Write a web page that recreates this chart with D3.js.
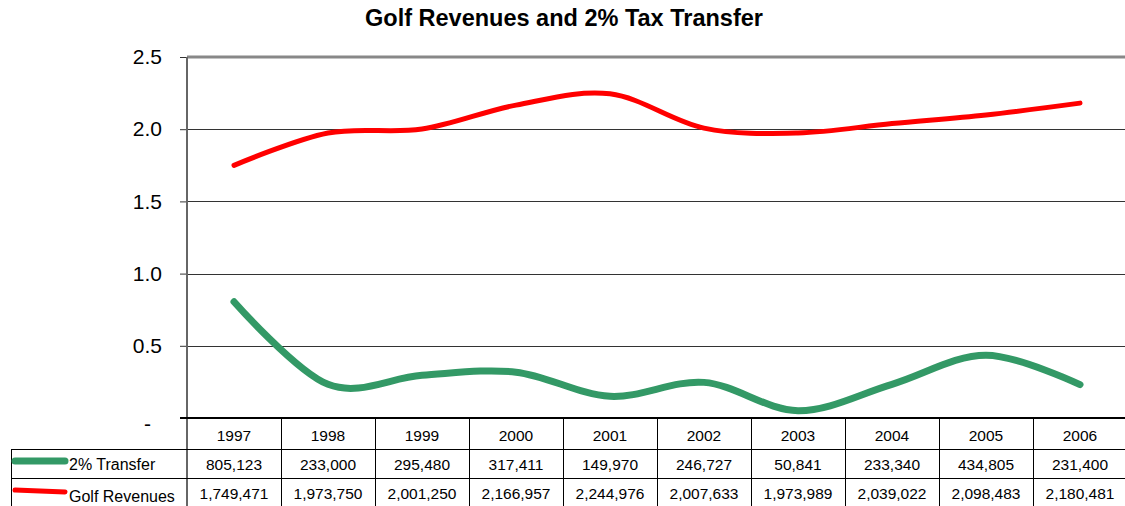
<!DOCTYPE html>
<html>
<head>
<meta charset="utf-8">
<script src="https://cdn.jsdelivr.net/npm/d3@7"></script>
<style>
  html, body { margin: 0; padding: 0; background: #fff; }
  svg { display: block; font-family: "Liberation Sans", Arial, sans-serif; }
</style>
</head>
<body>
<svg id="chart" width="1125" height="506"></svg>
<script>
// Data (dollars)
const years = ["1997","1998","1999","2000","2001","2002","2003","2004","2005","2006"];
const transfer = [805123, 233000, 295480, 317411, 149970, 246727, 50841, 233340, 434805, 231400];
const revenues = [1749471, 1973750, 2001250, 2166957, 2244976, 2007633, 1973989, 2039022, 2098483, 2180481];
const yTicks = [0, 0.5, 1.0, 1.5, 2.0, 2.5];

const series = [
  { name: "2% Transfer", values: transfer, color: "#339966", width: 7 },
  { name: "Golf Revenues", values: revenues, color: "#ff0000", width: 5 }
];

const svg = d3.select("#chart");
const plotLeft = 187, plotRight = 1127, plotTop = 57, plotBottom = 418;
const rowYear = 449, rowT = 478, rowEnd = 506;

const x = d3.scaleBand().domain(years).range([plotLeft, plotRight]);
const y = d3.scaleLinear().domain([0, 2.5]).range([plotBottom, plotTop]);

// Title
svg.append("text")
  .attr("x", 564).attr("y", 26)
  .attr("text-anchor", "middle")
  .attr("font-size", 23.5).attr("font-weight", "bold")
  .text("Golf Revenues and 2% Tax Transfer");

// Gridlines
svg.append("g").selectAll("line")
  .data(yTicks.filter(d => d > 0 && d < 2.5))
  .join("line")
  .attr("x1", plotLeft).attr("x2", 1125)
  .attr("y1", d => Math.round(y(d)) + 0.5).attr("y2", d => Math.round(y(d)) + 0.5)
  .attr("stroke", "#333").attr("stroke-width", 1);

// Top border of plot
svg.append("line")
  .attr("x1", plotLeft).attr("x2", 1125).attr("y1", plotTop).attr("y2", plotTop)
  .attr("stroke", "#888").attr("stroke-width", 3);

// Y axis
const yAxis = d3.axisLeft(y).tickValues(yTicks).tickSize(7).tickPadding(18)
  .tickFormat(d => d === 0 ? "-" : d3.format(".1f")(d));
const gy = svg.append("g").attr("transform", `translate(${plotLeft},0)`).call(yAxis);
gy.select(".domain").remove();
gy.selectAll(".tick line").attr("stroke", "#333");
gy.selectAll(".tick text").attr("font-size", 21).attr("fill", "#000")
  .attr("font-family", "Liberation Sans, Arial, sans-serif")
  .attr("dx", d => d === 0 ? -11 : 0)
  .attr("dy", d => d === 0 ? "0.6em" : "0.32em");

// Vertical axis line (runs through the data table)
svg.append("line")
  .attr("x1", plotLeft).attr("x2", plotLeft).attr("y1", plotTop).attr("y2", rowEnd)
  .attr("stroke", "#666").attr("stroke-width", 2);

// Lines
const line = d3.line()
  .x((d, i) => x(years[i]) + x.bandwidth() / 2)
  .y(d => y(d / 1e6))
  .curve(d3.curveCatmullRom.alpha(0));

svg.append("g").selectAll("path")
  .data(series)
  .join("path")
  .attr("d", s => line(s.values))
  .attr("fill", "none")
  .attr("stroke", s => s.color)
  .attr("stroke-width", s => s.width)
  .attr("stroke-linecap", "round")
  .attr("stroke-linejoin", "round");

// Data table
const table = svg.append("g");
// horizontal rules
table.append("line").attr("x1", 180).attr("x2", 1125).attr("y1", plotBottom).attr("y2", plotBottom)
  .attr("stroke", "#000").attr("stroke-width", 2);
[rowYear, rowT].forEach(yy => {
  table.append("line").attr("x1", 11).attr("x2", 1125)
    .attr("y1", yy + 0.5).attr("y2", yy + 0.5)
    .attr("stroke", "#000").attr("stroke-width", 1);
});
// left border of label column
table.append("line").attr("x1", 11.5).attr("x2", 11.5).attr("y1", rowYear).attr("y2", rowEnd)
  .attr("stroke", "#000").attr("stroke-width", 1);
// column separators
table.selectAll("line.col")
  .data(years.slice(1))
  .join("line").attr("class", "col")
  .attr("x1", d => Math.round(x(d)) + 0.5).attr("x2", d => Math.round(x(d)) + 0.5)
  .attr("y1", plotBottom).attr("y2", rowEnd)
  .attr("stroke", "#000").attr("stroke-width", 1);

// year header
table.selectAll("text.year")
  .data(years)
  .join("text").attr("class", "year")
  .attr("x", d => x(d) + x.bandwidth() / 2)
  .attr("y", 441)
  .attr("text-anchor", "middle").attr("font-size", 15.5)
  .text(d => d);

const fmt = d3.format(",");
const rowBase = [470, 499];
series.forEach((s, r) => {
  // legend key
  table.append("line")
    .attr("x1", 15).attr("x2", 65)
    .attr("y1", rowBase[r] - 9).attr("y2", rowBase[r] - 9 + (r === 1 ? 2 : 0))
    .attr("stroke", s.color).attr("stroke-width", s.width)
    .attr("stroke-linecap", "round");
  table.append("text")
    .attr("x", 69).attr("y", rowBase[r] + (r === 1 ? 3 : 0))
    .attr("font-size", 16)
    .text(s.name);
  table.selectAll("text.v" + r)
    .data(s.values)
    .join("text").attr("class", "v" + r)
    .attr("x", (d, i) => x(years[i]) + x.bandwidth() / 2)
    .attr("y", rowBase[r])
    .attr("text-anchor", "middle").attr("font-size", 15.5)
    .text(d => fmt(d));
});
</script>
</body>
</html>
